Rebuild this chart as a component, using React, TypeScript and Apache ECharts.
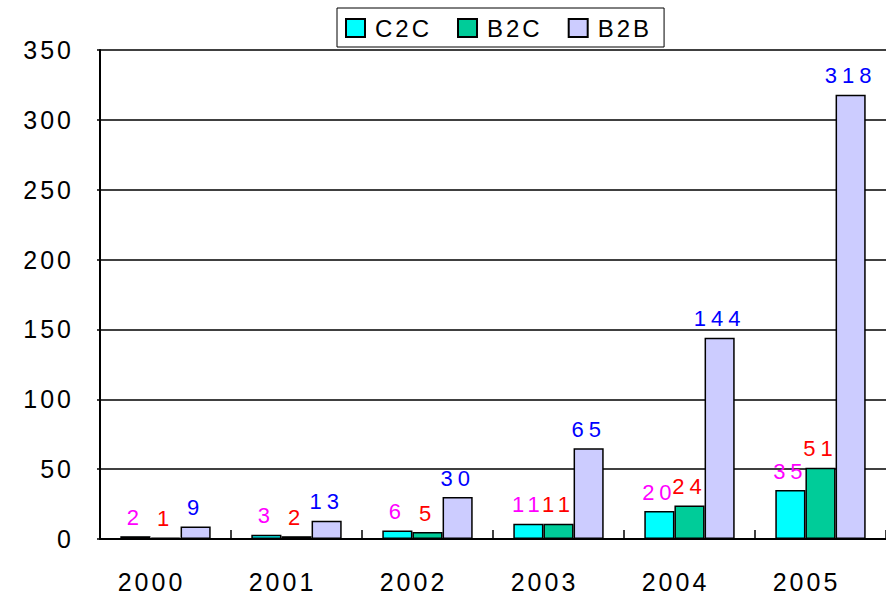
import React, { useEffect, useRef } from "react";
import * as echarts from "echarts";

const years = ["2000", "2001", "2002", "2003", "2004", "2005"];
const c2c = [2, 3, 6, 11, 20, 35];
const b2c = [1, 2, 5, 11, 24, 51];
const b2b = [9, 13, 30, 65, 144, 318];
const yTicks = { min: 0, max: 350, interval: 50 };

const FONT = "'Liberation Sans', Arial, sans-serif";

const css = `
#chartbox text[fill="#ff00ff" i], #chartbox text[fill="#ff0000" i], #chartbox text[fill="#0000ff" i] { letter-spacing: 5px; }
`;

export default function App() {
  const ref = useRef<HTMLDivElement>(null);
  useEffect(() => {
    const chart = echarts.init(ref.current!, null, { renderer: "svg" });
    const mk = (name: string, data: number[], color: string, labelColor: string) => ({
      name,
      type: "bar",
      data,
      barGap: "0%",
      barCategoryGap: "31%",
      itemStyle: { color, borderColor: "#000", borderWidth: 1.5 },
      label: {
        show: true,
        position: "top",
        distance: 8,
        color: labelColor,
        fontSize: 22,
        fontFamily: FONT,
      },
    });
    chart.setOption({
      animation: false,
      backgroundColor: "#fff",
      textStyle: { fontFamily: FONT },
      legend: {
        left: 337,
        top: 8,
        padding: [8, 21, 7, 8],
        itemGap: 34,
        itemWidth: 19,
        itemHeight: 18,
        icon: "rect",
        borderColor: "#000",
        borderWidth: 1,
        backgroundColor: "#fff",
        textStyle: { fontSize: 24, color: "#000", fontFamily: FONT, padding: [0, 0, 0, 5] },
        data: ["C2C", "B2C", "B2B"],
      },
      grid: { left: 100, right: 0, top: 50, bottom: 60 },
      xAxis: {
        type: "category",
        data: years,
        axisLine: { lineStyle: { color: "#000", width: 2 } },
        axisTick: { show: true, inside: true, length: 9, lineStyle: { color: "#000", width: 1.5 } },
        axisLabel: { color: "#000", fontSize: 25, margin: 30, fontFamily: FONT, padding: [0, 28, 0, 0] },
      },
      yAxis: {
        type: "value",
        min: yTicks.min,
        max: yTicks.max,
        interval: yTicks.interval,
        axisLine: { show: true, lineStyle: { color: "#000", width: 2 } },
        axisTick: { show: true, length: 3, lineStyle: { color: "#000", width: 1.5 } },
        axisLabel: { color: "#000", fontSize: 25, margin: 26, fontFamily: FONT },
        splitLine: { show: true, lineStyle: { color: "#000", width: 1.5 } },
      },
      series: [
        mk("C2C", c2c, "#00FFFF", "#FF00FF"),
        mk("B2C", b2c, "#00CC99", "#FF0000"),
        mk("B2B", b2b, "#CCCCFF", "#0000FF"),
      ],
    });
    return () => chart.dispose();
  }, []);
  return (
    <>
      <style>{css}</style>
      <div
        id="chartbox"
        ref={ref}
        style={{
          position: "fixed",
          left: 0,
          top: 0,
          width: 886,
          height: 599,
          background: "#fff",
          letterSpacing: "3px",
        }}
      />
    </>
  );
}
